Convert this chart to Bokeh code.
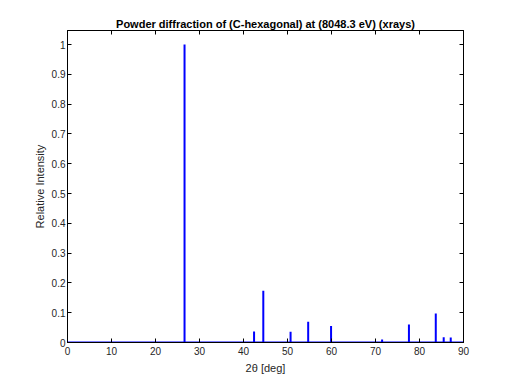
from bokeh.plotting import figure
from bokeh.models import Range1d, LinearAxis, FixedTicker, Title
from bokeh.embed import file_html
from bokeh.resources import INLINE

# peak positions (2theta, deg) and relative intensities
two_theta = [26.6, 42.4, 44.5, 50.7, 54.7, 59.9, 71.5, 77.6, 83.7, 85.5, 87.1]
intensity = [1.0, 0.037, 0.174, 0.036, 0.07, 0.055, 0.01, 0.06, 0.097, 0.018, 0.017]
x_ticks = [0, 10, 20, 30, 40, 50, 60, 70, 80, 90]
y_ticks = [0, 0.1, 0.2, 0.3, 0.4, 0.5, 0.6, 0.7, 0.8, 0.9, 1]

FONT = "Liberation Sans"

p = figure(width=512, height=384, output_backend="svg", toolbar_location=None,
           x_range=Range1d(0, 90), y_range=Range1d(0, 1.047),
           min_border_left=67, min_border_right=49, min_border_top=30, min_border_bottom=42)
p.title = None
p.xgrid.visible = False
p.ygrid.visible = False
p.outline_line_color = "black"
p.outline_line_width = 1
p.background_fill_color = "white"
p.border_fill_color = "white"

# baseline and peaks
p.line([0, 90], [0, 0], line_color="#0000ff", line_width=2)
p.segment(x0=two_theta, y0=[0]*len(two_theta), x1=two_theta, y1=intensity,
          line_color="#0000ff", line_width=2)

def style(ax, labels=True):
    ax.major_tick_in = 4
    ax.major_tick_out = 0
    ax.minor_tick_in = 0
    ax.minor_tick_out = 0
    ax.axis_line_color = "black"
    ax.major_tick_line_color = "black"
    ax.major_label_text_font = FONT
    ax.major_label_text_font_size = "10px"
    ax.major_label_text_color = "#262626"
    ax.axis_label_text_font = FONT
    ax.axis_label_text_font_size = "11px"
    ax.axis_label_text_font_style = "normal"
    ax.axis_label_text_color = "#262626"
    if not labels:
        ax.major_label_text_font_size = "0px"
        ax.major_label_text_alpha = 0

xa = p.xaxis[0]
xa.ticker = FixedTicker(ticks=x_ticks)
xa.axis_label = "2θ [deg]"
xa.axis_label_standoff = 4
xa.major_label_standoff = 4
style(xa)

ya = p.yaxis[0]
ya.ticker = FixedTicker(ticks=y_ticks)
ya.axis_label = "Relative Intensity"
ya.axis_label_standoff = 3
ya.major_label_standoff = 2
ya.major_label_overrides = {1: "1"}
style(ya)

top = LinearAxis(ticker=FixedTicker(ticks=x_ticks))
style(top, labels=False)
top.major_label_standoff = 0
p.add_layout(top, "above")

right = LinearAxis(ticker=FixedTicker(ticks=y_ticks))
style(right, labels=False)
right.major_label_standoff = 0
p.add_layout(right, "right")

t = Title(text="Powder diffraction of (C-hexagonal) at (8048.3 eV) (xrays)",
          align="center", text_font=FONT, text_font_size="11px",
          text_font_style="bold", text_color="black", standoff=2)
p.add_layout(t, "above")

open("out.html", "w").write(file_html(p, INLINE))
